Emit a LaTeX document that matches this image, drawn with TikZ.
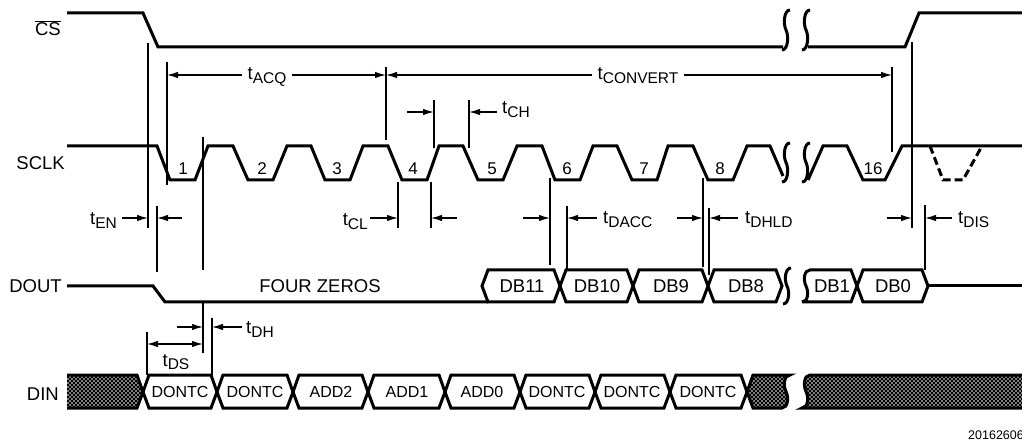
\documentclass[tikz,border=0pt]{standalone}
\usepackage{fontspec}
\setmainfont{Liberation Sans}
\usetikzlibrary{arrows.meta,patterns}
\pgfdeclarepatternformonly{wdots}{\pgfqpoint{-1pt}{-1pt}}{\pgfqpoint{5pt}{5pt}}{\pgfqpoint{4pt}{4pt}}{%
  \pgfpathcircle{\pgfqpoint{0pt}{0pt}}{0.85pt}%
  \pgfpathcircle{\pgfqpoint{2pt}{2pt}}{0.85pt}%
  \pgfusepath{fill}}
\newcommand{\tsub}[1]{t\raisebox{-3.5pt}{\fontsize{15.5}{16}\selectfont #1}}
\tikzset{
  sig/.style={line width=3pt},
  vline/.style={line width=1.5pt},
  arr/.style={line width=1.2pt,-{Latex[length=11pt,width=6.5pt]}},
  dbl/.style={line width=1.2pt,{Latex[length=11pt,width=6.5pt]}-{Latex[length=11pt,width=6.5pt]}},
  lab/.style={inner sep=0pt,font=\fontsize{18.5}{21}\selectfont},
  tlab/.style={inner xsep=5pt,inner ysep=0pt,font=\fontsize{18.5}{21}\selectfont},
  cellO/.style={inner sep=0pt,font=\fontsize{18.5}{21}\selectfont},
  cellI/.style={inner sep=0pt,font=\fontsize{16}{19}\selectfont},
  num/.style={inner sep=0pt,font=\fontsize{17}{20}\selectfont},
  hatch/.style={preaction={fill=black},pattern=wdots,pattern color=white},
  brkd/.style n args={3}{insert path={ -- ({#1+4},#2) .. controls ({#1-2},#2) and ({#1-3},{(#2+#3)/2-6}) .. ({#1},{(#2+#3)/2}) .. controls ({#1+3},{(#2+#3)/2+6}) and ({#1+2},#3) .. ({#1-4},#3)}},
}
\begin{document}
\begin{tikzpicture}[x=1pt,y=-1pt]
\useasboundingbox (0,0) rectangle (1022,443);

% signal labels
\node[lab,anchor=base east] (cs) at (61,36) {$\overline{\hbox{CS}}$};
\node[lab,anchor=base east] (sclk) at (65,170) {SCLK};
\node[lab,anchor=base east] (dout) at (62,293) {DOUT};
\node[lab,anchor=base east] (din) at (59,400) {DIN};

% CS
\draw[sig] (67,13) -- (143,13) -- (158,47) -- (783,47);
\draw[sig] (790,10) [brkd={786}{10}{50}];
\draw[sig] (810,10) [brkd={806}{10}{50}];
\draw[sig] (808,47) -- (905,47) -- (919,13) -- (1022,13);

% SCLK
\draw[sig] (67,146) -- (157,146) -- (170,180) -- (195,180) -- (208,146) -- (233,146) -- (248,180) -- (273,180) -- (287,146) -- (311,146) -- (325,180) -- (350,180) -- (363,146) -- (388,146) -- (402,180) -- (427,180) -- (439,146) -- (463,146) -- (478,180) -- (503,180) -- (517,146) -- (542,146) -- (555,180) -- (580,180) -- (593,146) -- (617,146) -- (632,180) -- (657,180) -- (668,146) -- (693,146) -- (708,180) -- (733,180) -- (747,146) -- (770,146) -- (783,176);
\draw[sig] (790,143) [brkd={786}{143}{182}];
\draw[sig] (810,143) [brkd={806}{143}{182}];
\draw[sig] (808,180) -- (823,146) -- (847,146) -- (863,180) -- (885,180) -- (902,146) -- (1022,146);
\draw[sig,dash pattern=on 8pt off 4pt] (930,146) -- (943,180) -- (963,180) -- (982,146);
\foreach \x/\n in {183/1,262/2,337/3,413/4,492/5,567/6,644/7,720/8,873/16}
  \node[num,anchor=base] (n\n) at (\x,175) {\n};

% DOUT
\draw[sig] (67,286) -- (153,286) -- (165,302) -- (488,302);
\node[cellO,anchor=base] (fz) at (320,293) {FOUR ZEROS};
\foreach \a/\b in {482/560,560/633,633/708,708/782,857/928}
  \draw[sig] (\a,286) -- ({\a+6},270) -- ({\b-6},270) -- (\b,286) -- ({\b-6},302) -- ({\a+6},302) -- cycle;
\draw[sig] (791,268) [brkd={787}{268}{304}];
\draw[sig] (802,302) -- (851,302) -- (857,286) -- (851,270) -- (810,270) [brkd={806}{270}{302}];
\draw[sig] (928,286) -- (1022,286);
\foreach \x/\t in {522/DB11,597/DB10,671/DB9,746/DB8,832/DB1,893/DB0}
  \node[cellO,anchor=base] (\t) at (\x,293) {\t};

% DIN
\path[hatch] (67,375) -- (137,375) -- (143,392) -- (137,408) -- (67,408) -- cycle;
\draw[sig] (67,375) -- (137,375) -- (143,392) -- (137,408) -- (67,408);
\foreach \a/\b in {143/217,217/293,293/368,368/445,445/520,520/595,595/670,670/747}
  \draw[sig] (\a,392) -- ({\a+6},375) -- ({\b-6},375) -- (\b,392) -- ({\b-6},408) -- ({\a+6},408) -- cycle;
\path[hatch] (747,392) -- (753,375) -- (790,375) [brkd={786}{375}{408}] -- (753,408) -- cycle;
\draw[sig] (747,392) -- (753,375) -- (790,375) [brkd={786}{375}{408}] -- (753,408) -- cycle;
\path[hatch] (1022,375) -- (810,375) [brkd={806}{375}{408}] -- (1022,408) -- cycle;
\draw[sig] (1022,375) -- (810,375) [brkd={806}{375}{408}] -- (1022,408);
\foreach \x/\t/\k in {180/DONTC/a,255/DONTC/b,331/ADD2/c,407/ADD1/d,482/ADD0/e,557/DONTC/f,632/DONTC/g,708/DONTC/h}
  \node[cellI,anchor=base] (din\k) at (\x,397) {\t};

% timing reference lines
\draw[vline] (148,43) -- (148,228);
\draw[vline] (157,206) -- (157,272);
\draw[vline] (167,62) -- (167,185);
\draw[vline] (203,137) -- (203,270);
\draw[vline] (203,302) -- (203,353);
\draw[vline] (212,318) -- (212,375);
\draw[vline] (147,332) -- (147,375);
\draw[vline] (386,67) -- (386,140);
\draw[vline] (398,182) -- (398,228);
\draw[vline] (431,182) -- (431,228);
\draw[vline] (434,100) -- (434,148);
\draw[vline] (469,100) -- (469,148);
\draw[vline] (550,178) -- (550,265);
\draw[vline] (567,206) -- (567,270);
\draw[vline] (703,178) -- (703,267);
\draw[vline] (709,208) -- (709,275);
\draw[vline] (892,67) -- (892,152);
\draw[vline] (912,42) -- (912,228);
\draw[vline] (925,205) -- (925,270);

% tACQ / tCONVERT
\coordinate (acqL) at (167,75);
\coordinate (acqR) at (386,75);
\coordinate (cvR) at (892,75);
\node[tlab,anchor=base] (tacq) at (267,80) {\tsub{ACQ}};
\node[tlab,anchor=base] (tconv) at (638,80) {\tsub{CONVERT}};
\draw[arr] (tacq.west |- acqL) -- (acqL);
\draw[arr] (tacq.east |- acqL) -- (acqR);
\draw[arr] (tconv.west |- acqL) -- (acqR);
\draw[arr] (tconv.east |- acqL) -- (cvR);

% tCH
\node[lab,anchor=base west] (tch) at (502,114) {\tsub{CH}};
\draw[arr] (407,112) -- (434,112);
\draw[arr] (497,112) -- (469,112);

% tEN
\node[lab,anchor=base east] (ten) at (117,225) {\tsub{EN}};
\draw[arr] (122,218) -- (148,218);
\draw[arr] (182,218) -- (157,218);

% tCL
\node[lab,anchor=base east] (tcl) at (368,226) {\tsub{CL}};
\draw[arr] (370,218) -- (398,218);
\draw[arr] (457,218) -- (431,218);

% tDACC
\node[lab,anchor=base west] (tdacc) at (603,224) {\tsub{DACC}};
\draw[arr] (523,218) -- (550,218);
\draw[arr] (597,218) -- (567,218);

% tDHLD
\node[lab,anchor=base west] (tdhld) at (745,224) {\tsub{DHLD}};
\draw[arr] (677,218) -- (703,218);
\draw[arr] (738,218) -- (709,218);

% tDIS
\node[lab,anchor=base west] (tdis) at (958,224) {\tsub{DIS}};
\draw[arr] (887,218) -- (912,218);
\draw[arr] (952,218) -- (925,218);

% tDH
\node[lab,anchor=base west] (tdh) at (246,334) {\tsub{DH}};
\draw[arr] (177,327) -- (203,327);
\draw[arr] (242,327) -- (212,327);

% tDS
\node[lab,anchor=base] (tds) at (176,366) {\tsub{DS}};
\draw[dbl] (147,344) -- (203,344);

% figure number
\node[anchor=base west,inner sep=0pt,font=\fontsize{12.5}{14}\selectfont] (fig) at (968,439) {20162606};
\end{tikzpicture}
\end{document}
